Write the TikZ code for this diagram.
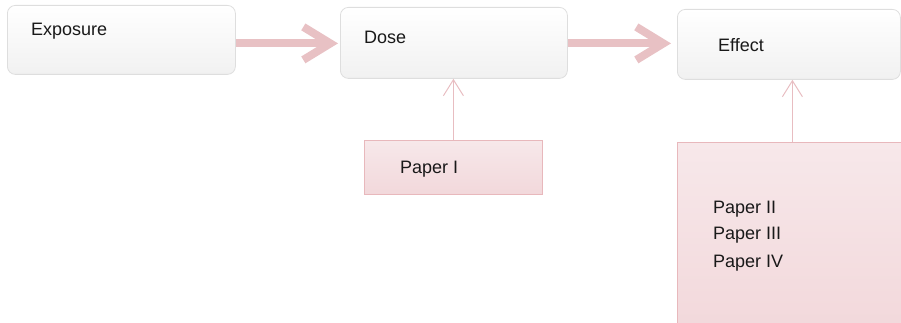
\documentclass[tikz,border=0pt]{standalone}
\usepackage{fontspec}
\setmainfont{Liberation Sans}
\usetikzlibrary{arrows.meta}
\definecolor{arrowpink}{HTML}{E8C1C4}
\definecolor{thinpink}{HTML}{E8BDC1}
\definecolor{boxline}{HTML}{DEDEDE}
\definecolor{boxbot}{HTML}{F1F1F1}
\definecolor{paperline}{HTML}{E8B8BC}
\definecolor{papertop}{HTML}{F7E8EA}
\definecolor{paperbot}{HTML}{F2D8DB}
\begin{document}
\begin{tikzpicture}[x=1pt,y=-1pt,
  graybox/.style={draw=boxline, line width=0.8pt, rounded corners=8pt, top color=white, bottom color=boxbot, inner sep=0pt, anchor=north west},
  paperbox/.style={draw=paperline, line width=0.8pt, top color=papertop, bottom color=paperbot, inner sep=0pt, anchor=north west},
  txt/.style={font=\fontsize{18}{22}\selectfont, text=black!90, inner sep=0pt, anchor=base west},
  bigarrow/.style={draw=arrowpink, line width=8pt, -{Straight Barb[length=27pt,width=33pt]}},
  thinarrow/.style={draw=thinpink, line width=1pt, -{Straight Barb[length=16pt,width=20pt]}}
]
\useasboundingbox (0,0) rectangle (901,323);
\begin{scope}
\clip (0,0) rectangle (901,323);
% boxes
\node[graybox, minimum width=228, minimum height=69] (exp) at (7,5) {};
\node[graybox, minimum width=227, minimum height=71] (dose) at (340,7) {};
\node[graybox, minimum width=223, minimum height=70] (eff) at (677,9) {};
\node[paperbox, minimum width=178, minimum height=54] (p1) at (364,140) {};
\node[paperbox, minimum width=230, minimum height=190] (pp) at (677,142) {};
% texts
\node[txt] (expt) at (31,36) {Exposure};
\node[txt] (doset) at (364,44) {Dose};
\node[txt] (efft) at (718,52) {Effect};
\node[txt] (p1t) at (400,174) {Paper I};
\node[txt] (p2t) at (713,213) {Paper II};
\node[txt] (p3t) at (713,239) {Paper III};
\node[txt] (p4t) at (713,267) {Paper IV};
% connectors
\draw[bigarrow] ([yshift=-3.5pt]exp.east) coordinate (s1) -- ([xshift=-2pt]s1 -| dose.west);
\draw[bigarrow] ([yshift=-0.5pt]dose.east) coordinate (s2) -- ([xshift=-6pt]s2 -| eff.west);
\draw[thinarrow] (p1.north) -- (p1.north |- dose.south);
\draw[thinarrow] (pp.north) -- (pp.north |- eff.south);
\end{scope}
\end{tikzpicture}
\end{document}
